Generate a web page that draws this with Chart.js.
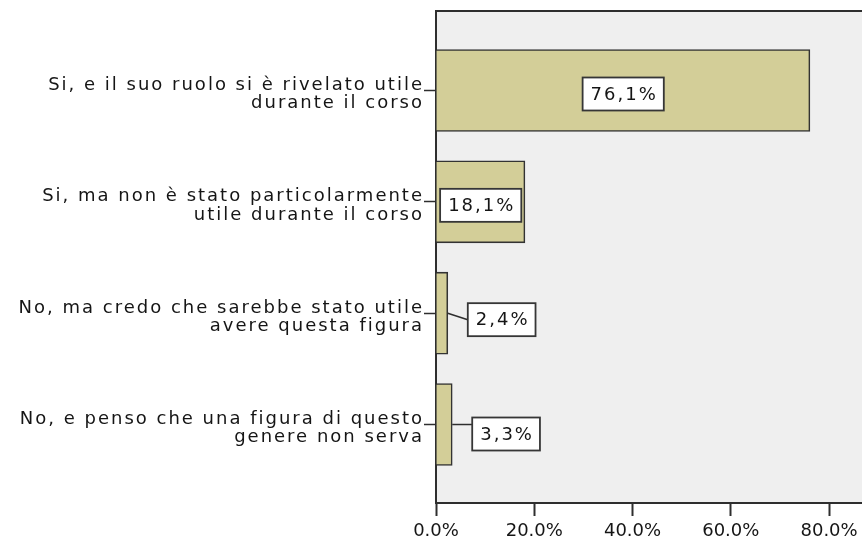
<!DOCTYPE html>
<html>
<head>
<meta charset="utf-8">
<script src="https://cdn.jsdelivr.net/npm/chart.js@4/dist/chart.umd.min.js"></script>
<style>
html,body{margin:0;padding:0;background:#ffffff;}
canvas{display:block;}
</style>
</head>
<body>
<canvas id="c" width="862" height="539"></canvas>
<script>
// ---- data ----
const categories = [
  ["Si, e il suo ruolo si è rivelato utile", "durante il corso"],
  ["Si, ma non è stato particolarmente", "utile durante il corso"],
  ["No, ma credo che sarebbe stato utile", "avere questa figura"],
  ["No, e penso che una figura di questo", "genere non serva"]
];
const values = [76.1, 18.1, 2.4, 3.3];
const xTicks = [0, 20, 40, 60, 80];

// ---- style ----
const FONT = '"DejaVu Sans", Verdana, sans-serif';
const TEXT = '#151515';
const AXIS = '#2e2e2e';
const SPACING = '2px';
const BAR_FILL = '#d3ce98';
const BAR_EDGE = '#333333';
const PLOT_BG = '#efefef';
const labelStyle = {
  insideDy: 3.5,
  outsideGap: 20,
  outsideDy: [0, 0, 6.5, 9.5],
  leaderDy: [0, 0, 6.5, 0],
  boxH: 33,
  padX: 7
};

function fmtPct(v) { return v.toFixed(1).replace('.', ',') + '%'; }

const framePlugin = {
  id: 'frame',
  beforeDraw(chart) {
    const ctx = chart.ctx, a = chart.chartArea;
    ctx.letterSpacing = '0px';
    ctx.save();
    ctx.fillStyle = PLOT_BG;
    ctx.fillRect(a.left, a.top, a.right - a.left, a.bottom - a.top);
    ctx.strokeStyle = AXIS;
    ctx.lineWidth = 2;
    ctx.beginPath();
    ctx.moveTo(a.left, a.top);
    ctx.lineTo(a.right, a.top);
    ctx.stroke();
    ctx.restore();
  },
  afterDatasetsDraw(chart) {
    const ctx = chart.ctx;
    ctx.letterSpacing = SPACING;
    const meta = chart.getDatasetMeta(0);
    meta.data.forEach((bar, i) => {
      const txt = fmtPct(values[i]);
      ctx.save();
      ctx.font = '18px ' + FONT;
      const tw = ctx.measureText(txt).width;
      const bw = tw + labelStyle.padX * 2, bh = labelStyle.boxH;
      const left = Math.min(bar.base, bar.x), right = Math.max(bar.base, bar.x);
      const cy = bar.y;
      let bx, by;
      if (bw <= right - left - 4) {
        bx = (left + right) / 2 - bw / 2;
        by = cy + labelStyle.insideDy - bh / 2;
      } else {
        bx = right + labelStyle.outsideGap;
        by = cy + labelStyle.outsideDy[i] - bh / 2;
        ctx.strokeStyle = AXIS;
        ctx.lineWidth = 1.5;
        ctx.beginPath();
        ctx.moveTo(right, cy);
        ctx.lineTo(bx, cy + labelStyle.leaderDy[i]);
        ctx.stroke();
      }
      ctx.fillStyle = '#ffffff';
      ctx.fillRect(bx, by, bw, bh);
      ctx.strokeStyle = '#363636';
      ctx.lineWidth = 1.8;
      ctx.strokeRect(bx, by, bw, bh);
      ctx.fillStyle = TEXT;
      ctx.textAlign = 'center';
      ctx.textBaseline = 'middle';
      ctx.fillText(txt, bx + bw / 2 + 1, by + bh / 2 + 1);
      ctx.restore();
    });
  },
  afterDraw(chart) { chart.ctx.letterSpacing = '0px'; }
};

new Chart(document.getElementById('c'), {
  type: 'bar',
  data: {
    datasets: [{
      data: values.map((v, i) => ({ x: v, y: i })),
      backgroundColor: BAR_FILL,
      borderColor: BAR_EDGE,
      borderWidth: 1.6,
      barThickness: 82
    }]
  },
  options: {
    indexAxis: 'y',
    responsive: false,
    animation: false,
    events: [],
    layout: { padding: { top: 11, left: 0, right: 0, bottom: 0 } },
    plugins: { legend: { display: false }, tooltip: { enabled: false } },
    scales: {
      x: {
        type: 'linear', position: 'bottom', min: 0, max: 86.7, offset: false,
        afterBuildTicks: s => { s.ticks = xTicks.map(v => ({ value: v })); },
        afterFit: s => { s.height = 36; s.paddingLeft = 0; s.paddingRight = 0; },
        grid: { offset: false, drawOnChartArea: false, drawTicks: true, tickLength: 13, tickWidth: 2, tickColor: AXIS },
        border: { display: true, color: AXIS, width: 2 },
        ticks: {
          font: { family: FONT, size: 18 }, color: TEXT, padding: 5,
          maxRotation: 0, autoSkip: false, z: 0,
          callback: v => Number(v).toFixed(1) + '%'
        }
      },
      y: {
        type: 'linear', position: 'left', reverse: true, min: -0.714, max: 3.705,
        offset: false,
        afterBuildTicks: s => { s.ticks = categories.map((c, i) => ({ value: i })); },
        afterFit: s => { s.width = 436; s.paddingTop = 0; s.paddingBottom = 0; },
        grid: { offset: false, drawOnChartArea: false, drawTicks: true, tickLength: 12, tickWidth: 1.5, tickColor: AXIS },
        border: { display: true, color: AXIS, width: 2 },
        ticks: {
          font: { family: FONT, size: 18, lineHeight: 1.03 }, color: TEXT, padding: 0,
          labelOffset: 4, autoSkip: false, z: 1, crossAlign: 'near',
          callback: v => categories[v]
        }
      }
    }
  },
  plugins: [framePlugin]
});
</script>
</body>
</html>
